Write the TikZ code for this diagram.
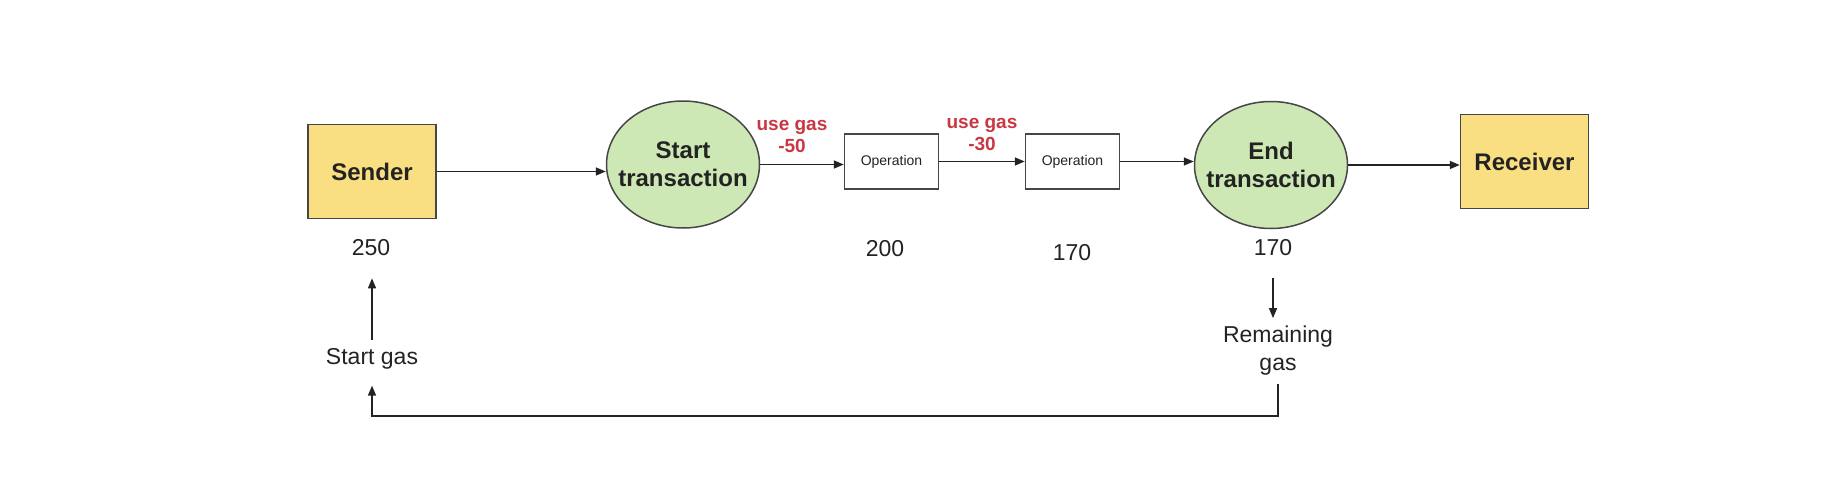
\documentclass[tikz,border=0pt]{standalone}
\usepackage{fontspec}
\setmainfont{Liberation Sans}
\usepackage{tikz}
\usetikzlibrary{arrows.meta,positioning,shapes.geometric}
\definecolor{gold}{RGB}{250,223,130}
\definecolor{sage}{RGB}{205,232,180}
\definecolor{gasred}{RGB}{201,55,66}
\definecolor{ink}{RGB}{35,35,35}
\definecolor{edge}{RGB}{70,70,70}

\tikzset{
  partybox/.style={draw=edge, line width=1.5pt, fill=gold, text=ink,
    font=\bfseries\fontsize{24}{28}\selectfont, minimum width=128pt, minimum height=94pt},
  txellipse/.style={ellipse, draw=edge, line width=1.5pt, fill=sage, text=ink, align=center,
    font=\bfseries\fontsize{24}{28}\selectfont, minimum width=153pt, minimum height=127pt,
    inner xsep=-11pt, inner ysep=0pt},
  opbox/.style={draw=edge, line width=1.5pt, fill=white, text=ink,
    font=\fontsize{14}{16}\selectfont, minimum width=94pt, minimum height=55pt},
  costlabel/.style={text=gasred, align=center, font=\bfseries\fontsize{19}{22}\selectfont},
  gasnum/.style={text=ink, inner sep=8pt, font=\fontsize{23}{28}\selectfont},
  gaslabel/.style={text=ink, inner sep=8pt, align=center, font=\fontsize{23}{28}\selectfont},
  arr/.style={draw=ink, line width=1.5pt, -{Triangle[length=10pt,width=8pt]}}
}

\begin{document}
\begin{tikzpicture}[x=1pt, y=-1pt]
  \useasboundingbox (0,0) rectangle (1844,490);

  % main chain
  \node[partybox] (sender) at (372,171.5) {Sender};
  \node[txellipse] (start) at (683,164.5) {Start\\transaction};
  \node[opbox] (op1) at (891.5,161.5) {Operation};
  \node[opbox] (op2) at (1072.5,161.5) {Operation};
  \node[txellipse] (end) at (1271,165) {End\\transaction};
  \node[partybox] (receiver) at (1524.5,161.5) {Receiver};

  \draw[arr] (sender.east) -- (sender.east -| start.west);
  \draw[arr] (start.east) -- (start.east -| op1.west);
  \draw[arr] (op1.east) -- (op2.west);
  \draw[arr] (op2.east) -- (op2.east -| end.west);
  \draw[arr] (end.east) -- (end.east -| receiver.west);

  % gas used per step
  \node[costlabel] (cost1) at (792,136) {use gas\\-50};
  \node[costlabel] (cost2) at (982,134) {use gas\\-30};

  % gas left
  \foreach \name/\x/\y/\val in {n250/371/248/250, n200/885/249/200, n170a/1072/253/170, n170b/1273/248/170}
    \node[gasnum] (\name) at (\x,\y) {\val};

  \node[gaslabel] (startgas) at (372,359) {Start gas};
  \node[gaslabel] (remaining) at (1278,351) {Remaining\\gas};
  \coordinate (back) at (372,416);

  \draw[arr, shorten >=14pt] (startgas.north) -- (startgas.north |- n250.south);
  \draw[arr, shorten <=14pt] (n170b.south) -- (n170b.south |- remaining.north);
  \draw[arr, shorten >=8pt] (remaining.south) |- (back) -- (startgas.south);
\end{tikzpicture}
\end{document}
